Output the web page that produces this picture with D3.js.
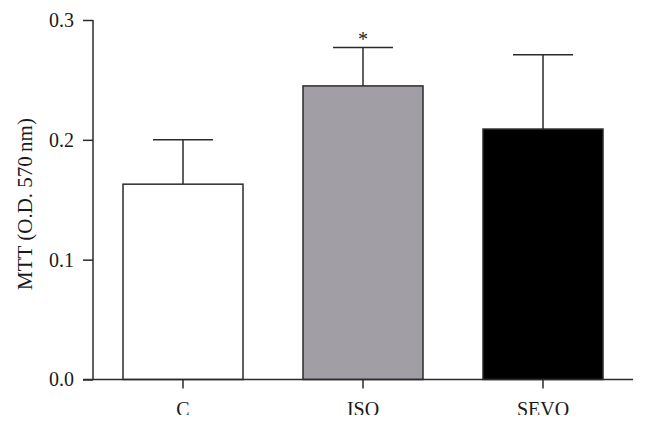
<!DOCTYPE html>
<html>
<head>
<meta charset="utf-8">
<script src="https://cdn.jsdelivr.net/npm/d3@7"></script>
<style>
  body { margin: 0; background: #fff; }
  svg { display: block; }
  text { font-family: "Liberation Serif", "Times New Roman", serif; }
</style>
</head>
<body>
<div id="chart"></div>
<script>
// data
var groups = ["C", "ISO", "SEVO"];
var means = [0.163, 0.245, 0.209];
var errors = [0.037, 0.032, 0.062];
var fills = ["#ffffff", "#a19fa5", "#000000"];
var marks = ["", "*", ""];
var yTicks = [0.0, 0.1, 0.2, 0.3];

var svgWidth = 648;
var svgHeight = 429;
var serif = "Liberation Serif, Times New Roman, serif";

var svg = d3.select("#chart")
  .append("svg")
  .attr("width", svgWidth)
  .attr("height", svgHeight);

// scales
var xScale = d3.scaleBand()
  .domain(groups)
  .range([93, 633])
  .paddingInner(1 / 3)
  .paddingOuter(1 / 6);

var yScale = d3.scaleLinear()
  .domain([0, 0.3])
  .range([379.5, 20]);

var ink = "#2b2b2b";

// bars
var bars = svg.append("g");
groups.forEach(function(g, i) {
  var x0 = xScale(g);
  var bw = xScale.bandwidth();
  var cx = x0 + bw / 2;
  var top = yScale(means[i] + errors[i]);

  // error bar (upper half only)
  bars.append("line")
    .attr("x1", cx).attr("x2", cx)
    .attr("y1", yScale(means[i])).attr("y2", top)
    .attr("stroke", ink).attr("stroke-width", 1.5);
  bars.append("line")
    .attr("x1", cx - bw / 4).attr("x2", cx + bw / 4)
    .attr("y1", top).attr("y2", top)
    .attr("stroke", ink).attr("stroke-width", 1.5);

  bars.append("rect")
    .attr("x", x0)
    .attr("y", yScale(means[i]))
    .attr("width", bw)
    .attr("height", yScale(0) - yScale(means[i]))
    .attr("fill", fills[i])
    .attr("stroke", ink)
    .attr("stroke-width", 1.5);

  if (marks[i]) {
    bars.append("text")
      .attr("x", cx)
      .attr("y", top - 2)
      .attr("text-anchor", "middle")
      .attr("font-size", "20px")
      .attr("fill", "#222")
      .text(marks[i]);
  }
});

// y axis
var leftAxis = d3.axisLeft(yScale)
  .tickValues(yTicks)
  .tickFormat(d3.format(".1f"))
  .tickSize(10)
  .tickPadding(9);

var yAxis = svg.append("g")
  .attr("transform", "translate(93,0)")
  .call(leftAxis);
yAxis.select(".domain")
  .attr("d", "M0," + yScale(0.3) + "V" + yScale(0));

// x axis, labels clipped at the bottom like the source picture
svg.append("clipPath")
  .attr("id", "cut")
  .append("rect")
  .attr("x", 0).attr("y", 0)
  .attr("width", svgWidth).attr("height", 415);

var bottomAxis = d3.axisBottom(xScale)
  .tickSize(9)
  .tickPadding(13);

var xAxis = svg.append("g")
  .attr("clip-path", "url(#cut)")
  .append("g")
  .attr("transform", "translate(0," + yScale(0) + ")")
  .call(bottomAxis);
xAxis.select(".domain")
  .attr("d", "M83,0H633");

svg.selectAll(".domain, .tick line")
  .attr("stroke", ink)
  .attr("stroke-width", 1.5);
svg.selectAll(".tick text")
  .attr("font-size", 20)
  .attr("font-family", serif)
  .attr("fill", "#1a1a1a");

// y label
svg.append("text")
  .attr("transform", "translate(32,204) rotate(-90)")
  .attr("text-anchor", "middle")
  .attr("font-size", 21)
  .attr("font-family", serif)
  .attr("fill", "#1a1a1a")
  .text("MTT (O.D. 570\u2009nm)");
</script>
</body>
</html>
